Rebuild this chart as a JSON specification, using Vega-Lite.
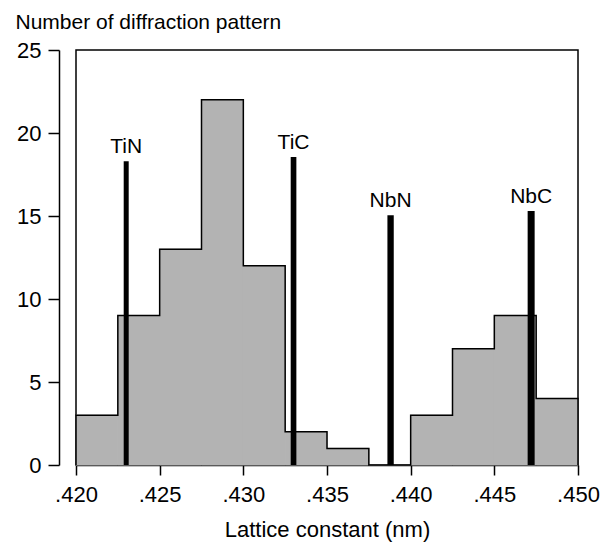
{
  "$schema": "https://vega.github.io/schema/vega-lite/v6.json",
  "width": 502,
  "height": 415,
  "autosize": "none",
  "padding": {"left": 76, "top": 50, "right": 23, "bottom": 78},
  "background": "white",
  "config": {
    "font": "Liberation Sans",
    "view": {"stroke": "black", "strokeWidth": 1.5},
    "axis": {
      "grid": false,
      "domainColor": "black",
      "tickColor": "black",
      "labelColor": "black",
      "titleColor": "black",
      "labelFontSize": 22,
      "titleFontSize": 22,
      "titleFontWeight": "normal",
      "domainWidth": 1.5,
      "tickWidth": 1.5,
      "labelFlush": false
    }
  },
  "datasets": {
    "hist": [
      {"bin_start": 0.420, "bin_end": 0.4225, "count": 3},
      {"bin_start": 0.4225, "bin_end": 0.425, "count": 9},
      {"bin_start": 0.425, "bin_end": 0.4275, "count": 13},
      {"bin_start": 0.4275, "bin_end": 0.430, "count": 22},
      {"bin_start": 0.430, "bin_end": 0.4325, "count": 12},
      {"bin_start": 0.4325, "bin_end": 0.435, "count": 2},
      {"bin_start": 0.435, "bin_end": 0.4375, "count": 1},
      {"bin_start": 0.4375, "bin_end": 0.440, "count": 0},
      {"bin_start": 0.440, "bin_end": 0.4425, "count": 3},
      {"bin_start": 0.4425, "bin_end": 0.445, "count": 7},
      {"bin_start": 0.445, "bin_end": 0.4475, "count": 9},
      {"bin_start": 0.4475, "bin_end": 0.450, "count": 4}
    ],
    "outline": [
      {"step": 0, "x": 0.420, "y": 0},
      {"step": 1, "x": 0.420, "y": 3},
      {"step": 2, "x": 0.4225, "y": 9},
      {"step": 3, "x": 0.425, "y": 13},
      {"step": 4, "x": 0.4275, "y": 22},
      {"step": 5, "x": 0.430, "y": 12},
      {"step": 6, "x": 0.4325, "y": 2},
      {"step": 7, "x": 0.435, "y": 1},
      {"step": 8, "x": 0.4375, "y": 0},
      {"step": 9, "x": 0.440, "y": 3},
      {"step": 10, "x": 0.4425, "y": 7},
      {"step": 11, "x": 0.445, "y": 9},
      {"step": 12, "x": 0.4475, "y": 4},
      {"step": 13, "x": 0.450, "y": 4},
      {"step": 14, "x": 0.450, "y": 0}
    ],
    "refs": [
      {"compound": "TiN", "lattice": 0.4230, "height": 18.3},
      {"compound": "TiC", "lattice": 0.4330, "height": 18.55},
      {"compound": "NbN", "lattice": 0.4388, "height": 15.05},
      {"compound": "NbC", "lattice": 0.4472, "height": 15.3}
    ]
  },
  "layer": [
    {
      "data": {"name": "hist"},
      "mark": {"type": "rect", "fill": "#b3b3b3", "stroke": "#b3b3b3", "strokeWidth": 1},
      "encoding": {
        "x": {
          "field": "bin_start",
          "type": "quantitative",
          "scale": {"domain": [0.42, 0.45], "nice": false, "zero": false},
          "axis": {
            "values": [0.42, 0.425, 0.43, 0.435, 0.44, 0.445, 0.45],
            "labelExpr": "substring(format(datum.value, '.3f'), 1)",
            "tickSize": 10,
            "labelPadding": 9,
            "title": "Lattice constant (nm)",
            "titlePadding": 14
          }
        },
        "x2": {"field": "bin_end"},
        "y": {
          "field": "count",
          "type": "quantitative",
          "scale": {"domain": [0, 25], "nice": false},
          "axis": {
            "values": [0, 5, 10, 15, 20, 25],
            "offset": 17,
            "tickSize": 11,
            "labelPadding": 7,
            "labelBaseline": "middle",
            "title": "Number of diffraction pattern",
            "titleFontSize": 21,
            "titleAngle": 0,
            "titleAlign": "left",
            "titleBaseline": "alphabetic",
            "titleX": -44,
            "titleY": -22
          }
        },
        "y2": {"datum": 0}
      }
    },
    {
      "data": {"name": "outline"},
      "mark": {"type": "line", "interpolate": "step-after", "color": "black", "strokeWidth": 1.5},
      "encoding": {
        "x": {"field": "x", "type": "quantitative"},
        "y": {"field": "y", "type": "quantitative"},
        "order": {"field": "step", "type": "quantitative"}
      }
    },
    {
      "data": {"name": "refs"},
      "mark": {"type": "rule", "color": "black", "strokeCap": "butt"},
      "encoding": {
        "x": {"field": "lattice", "type": "quantitative"},
        "y": {"field": "height", "type": "quantitative"},
        "y2": {"datum": 0},
        "strokeWidth": {
          "field": "compound",
          "type": "nominal",
          "scale": {"domain": ["TiN", "TiC", "NbN", "NbC"], "range": [5, 7, 4.5, 7]},
          "legend": null
        }
      }
    },
    {
      "data": {"name": "refs"},
      "mark": {"type": "text", "fontSize": 21, "dy": -8, "baseline": "alphabetic", "align": "center", "color": "black"},
      "encoding": {
        "x": {"field": "lattice", "type": "quantitative"},
        "y": {"field": "height", "type": "quantitative"},
        "text": {"field": "compound"}
      }
    }
  ]
}
